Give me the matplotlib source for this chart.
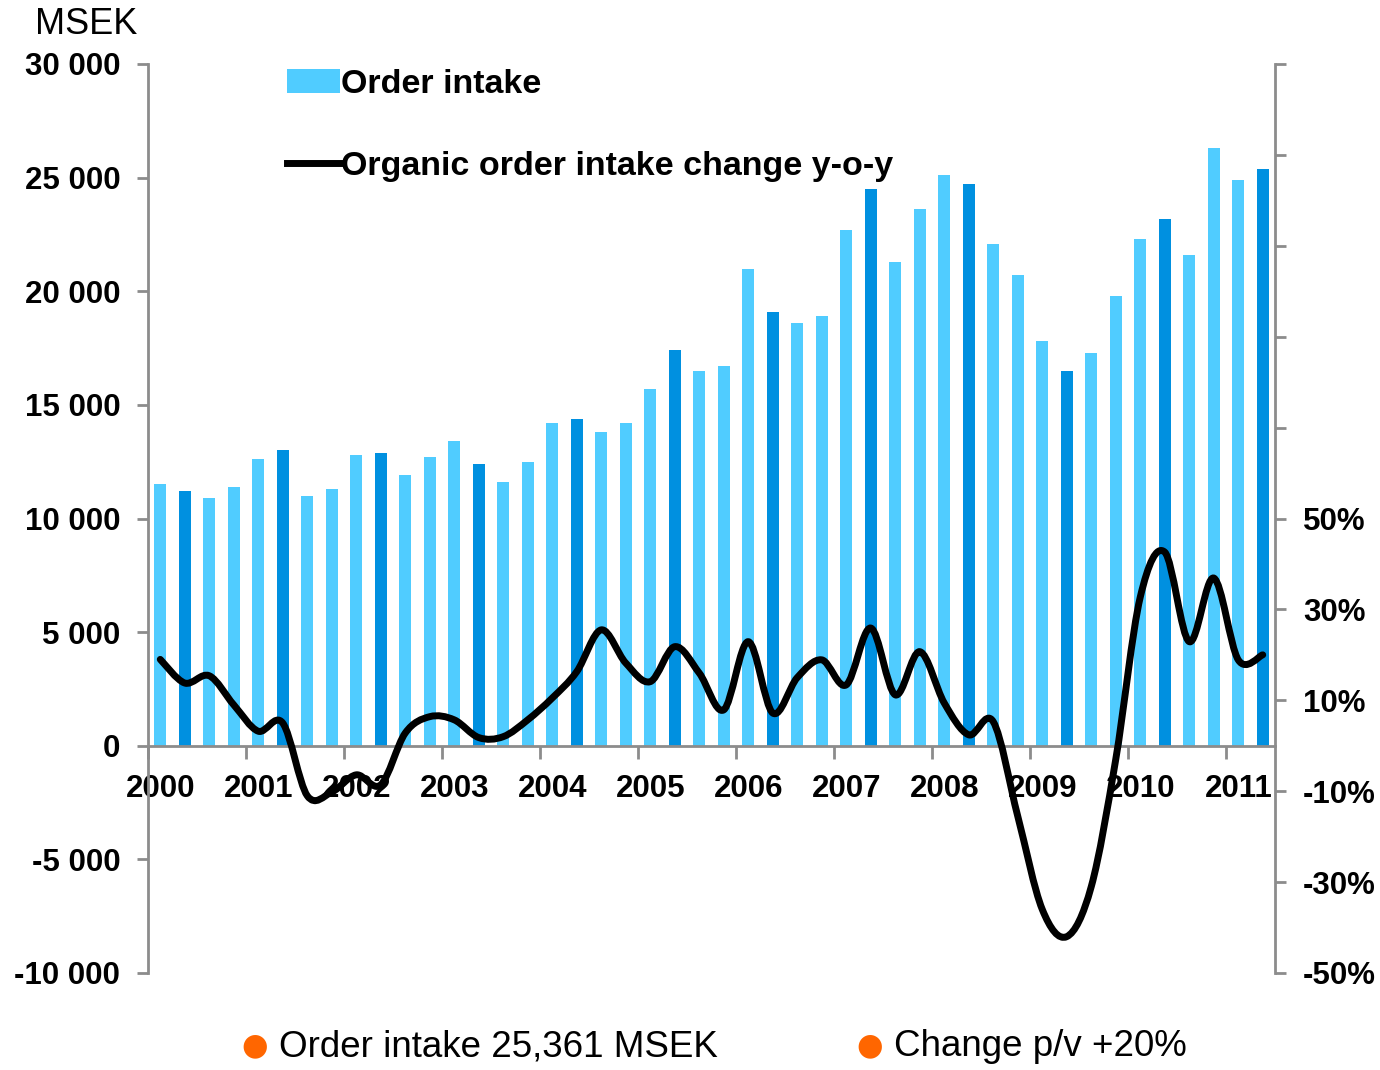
import numpy as np
import matplotlib
matplotlib.use("Agg")
import matplotlib.pyplot as plt
from matplotlib.path import Path
from matplotlib.patches import PathPatch, Patch
from matplotlib.lines import Line2D
from matplotlib.ticker import FixedLocator, FuncFormatter

# --- Data ---------------------------------------------------------------
years = [str(y) for y in range(2000, 2012)]

order_intake = [
    11500, 11200, 10900, 11400,   # 2000
    12600, 13000, 11000, 11300,   # 2001
    12800, 12900, 11900, 12700,   # 2002
    13400, 12400, 11600, 12500,   # 2003
    14200, 14400, 13800, 14200,   # 2004
    15700, 17400, 16500, 16700,   # 2005
    21000, 19100, 18600, 18900,   # 2006
    22700, 24500, 21300, 23600,   # 2007
    25100, 24700, 22100, 20700,   # 2008
    17800, 16500, 17300, 19800,   # 2009
    22300, 23200, 21600, 26300,   # 2010
    24900, 25361,                 # 2011
]

organic_change = [
    19.0, 13.8, 15.4, 9.0,
    3.2, 5.0, -11.0, -10.2,
    -6.4, -8.6, 2.8, 6.4,
    5.7, 1.8, 2.0, 5.7,
    10.5, 16.3, 25.5, 18.2,
    14.1, 21.8, 16.0, 7.9,
    22.9, 7.2, 15.0, 18.9,
    13.4, 25.9, 11.2, 20.7,
    9.4, 2.4, 5.3, -15.5,
    -36.0, -42.0, -31.0, -3.0,
    32.7, 42.6, 22.9, 36.9,
    18.9, 20.0,
]

legend_labels = ["Order intake", "Organic order intake change y-o-y"]
footer_left = "Order intake 25,361 MSEK"
footer_right = "Change p/v +20%"

LIGHT = "#50CCFF"
DARK = "#0090E0"
GREY = "#8C8C8C"
ORANGE = "#FF6600"

plt.rcParams["font.family"] = ["Liberation Sans", "DejaVu Sans"]

x = np.arange(len(order_intake))
colors = [DARK if i % 4 == 1 else LIGHT for i in x]

fig = plt.figure(figsize=(13.8, 10.7), dpi=100)
ax = fig.add_axes([148 / 1380, 1 - 973 / 1070, (1275 - 148) / 1380, (973 - 64) / 1070])

ax.bar(x, order_intake, width=0.5, color=colors, zorder=2)
ax.set_xlim(-0.5, len(x) - 0.5)
ax.set_ylim(-10000, 30000)

# spines
for s in ["left", "right", "bottom"]:
    ax.spines[s].set_color(GREY)
    ax.spines[s].set_linewidth(2)
ax.spines["top"].set_visible(False)
ax.spines["bottom"].set_position(("data", 0))

# left axis ticks
ax.set_yticks(np.arange(-10000, 30001, 5000))
ax.yaxis.set_major_formatter(FuncFormatter(lambda v, p: f"{int(v):,}".replace(",", " ")))
ax.tick_params(axis="y", direction="out", length=8, width=2, color=GREY,
               labelsize=22.5, pad=12)
for t in ax.get_yticklabels():
    t.set_fontweight("bold")

# x axis: ticks at year boundaries, labels under first quarter
ax.xaxis.set_major_locator(FixedLocator(np.arange(-0.5, len(x), 4)))
ax.xaxis.set_major_formatter(FuncFormatter(lambda v, p: ""))
ax.xaxis.set_minor_locator(FixedLocator(np.arange(0, len(x), 4)))
ax.set_xticklabels(years, minor=True)
ax.tick_params(axis="x", which="major", direction="out", length=9, width=2, color=GREY)
ax.tick_params(axis="x", which="minor", length=0, labelsize=22.5, pad=20)
for t in ax.get_xticklabels(minor=True):
    t.set_fontweight("bold")

# right axis
ax2 = ax.twinx()
ax2.set_ylim(-50, 150)
for s in ["left", "right", "bottom", "top"]:
    ax2.spines[s].set_visible(False)
ax2.yaxis.set_major_locator(FixedLocator(np.arange(-50, 151, 20)))
ax2.yaxis.set_major_formatter(FuncFormatter(lambda v, p: f"{int(round(v))}%" if v <= 50 else ""))
ax2.tick_params(axis="y", direction="out", length=8, width=2, color=GREY,
                labelsize=22.5, pad=12)
for t in ax2.get_yticklabels():
    t.set_fontweight("bold")

# smoothed line (Catmull-Rom style Bezier, like the spreadsheet's smooth line)
pts = np.column_stack([x, organic_change]).astype(float)
verts = [pts[0]]
codes = [Path.MOVETO]
n = len(pts)
for i in range(n - 1):
    p0 = pts[max(i - 1, 0)]
    p1 = pts[i]
    p2 = pts[i + 1]
    p3 = pts[min(i + 2, n - 1)]
    c1 = p1 + (p2 - p0) / 6.0
    c2 = p2 - (p3 - p1) / 6.0
    verts += [c1, c2, p2]
    codes += [Path.CURVE4] * 3
ax2.add_patch(PathPatch(Path(verts, codes), facecolor="none", edgecolor="black",
                        lw=5, capstyle="round", joinstyle="round", zorder=3))

# legend
handles = [Patch(facecolor=LIGHT, edgecolor="none"),
           Line2D([0], [0], color="black", lw=5)]
leg = fig.legend(handles, legend_labels, loc="upper left",
                 bbox_to_anchor=(287 / 1380, 1 - 69 / 1070),
                 frameon=False, borderpad=0, borderaxespad=0,
                 handlelength=1.55, handleheight=0.72, handletextpad=0.05,
                 labelspacing=1.5, prop={"size": 24.5, "weight": "bold"})

# unit label
fig.text(35 / 1380, 1 - 24 / 1070, "MSEK", fontsize=26, ha="left", va="center")

# footer
fig.text(255 / 1380, 1 - 1046 / 1070, "●", color=ORANGE, fontsize=22,
         ha="center", va="center", family="DejaVu Sans")
fig.text(279 / 1380, 1 - 1047 / 1070, footer_left, fontsize=26.5,
         ha="left", va="center")
fig.text(870 / 1380, 1 - 1046 / 1070, "●", color=ORANGE, fontsize=22,
         ha="center", va="center", family="DejaVu Sans")
fig.text(894 / 1380, 1 - 1047 / 1070, footer_right, fontsize=26.5,
         ha="left", va="center")

fig.savefig("out.png", dpi=100)
